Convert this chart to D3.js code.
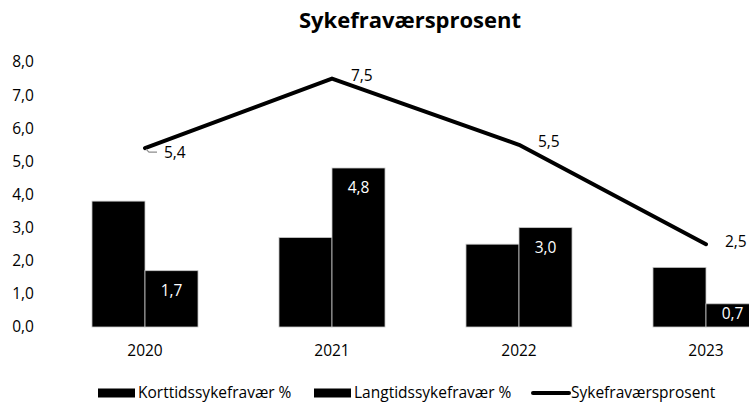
<!DOCTYPE html>
<html>
<head>
<meta charset="utf-8">
<script src="https://cdn.jsdelivr.net/npm/d3@7"></script>
<style>
  body { margin: 0; background: #fff; }
  svg { display: block; font-family: "Open Sans", "Noto Sans", sans-serif; }
</style>
</head>
<body>
<svg id="chart" width="749" height="403"></svg>
<script>
// chart data
const years = ["2020", "2021", "2022", "2023"];
const seriesNames = ["Korttidssykefravær %", "Langtidssykefravær %"];
const korttid = [3.8, 2.7, 2.5, 1.8];
const langtid = [1.7, 4.8, 3.0, 0.7];
const total = [5.4, 7.5, 5.5, 2.5];
const yTicks = [0, 1, 2, 3, 4, 5, 6, 7, 8];
const lineName = "Sykefraværsprosent";

const fmt = v => v.toFixed(1).replace(".", ",");
const fs = 15.5;

const svg = d3.select("#chart");

// scales - plot area runs past the right edge like the original
const x = d3.scaleBand().domain(years).range([51.5, 799.5]).paddingInner(0.433).paddingOuter(0.2165);
const x1 = d3.scaleBand().domain(seriesNames).range([0, x.bandwidth()]);
const y = d3.scaleLinear().domain([0, 8]).range([327, 62]);

// title
svg.append("text")
  .attr("x", 410).attr("y", 28)
  .attr("text-anchor", "middle")
  .attr("font-size", 22).attr("font-weight", "bold")
  .text("Sykefraværsprosent");

// y axis labels (no line)
const yAxis = d3.axisLeft(y).tickValues(yTicks).tickFormat(fmt).tickSize(0).tickPadding(0);
const gy = svg.append("g").attr("transform", "translate(34,0)").call(yAxis);
gy.select(".domain").remove();
gy.selectAll("text").attr("font-size", fs).attr("font-family", "Open Sans").attr("fill", "#000");

// x axis labels
const xAxis = d3.axisBottom(x).tickSize(0).tickPadding(0);
const gx = svg.append("g").attr("transform", "translate(0,345)").call(xAxis);
gx.select(".domain").remove();
gx.selectAll("text").attr("font-size", fs).attr("font-family", "Open Sans").attr("fill", "#000");

// bars
const rows = years.map((yr, i) => ({ year: yr, vals: [korttid[i], langtid[i]] }));
const groups = svg.append("g").selectAll("g")
  .data(rows).join("g")
  .attr("transform", d => `translate(${x(d.year)},0)`);

groups.selectAll("rect")
  .data(d => d.vals.map((v, j) => ({ name: seriesNames[j], v })))
  .join("rect")
  .attr("x", d => x1(d.name))
  .attr("y", d => y(d.v))
  .attr("width", x1.bandwidth())
  .attr("height", d => y(0) - y(d.v))
  .attr("fill", "#000")
  .attr("stroke", "#c8c8c8")
  .attr("stroke-width", 0.8);

// white labels inside the Langtid bars
groups.append("text")
  .attr("x", x1(seriesNames[1]) + x1.bandwidth() / 2)
  .attr("y", d => Math.min(y(d.vals[1]) + 20, y(0) - 13))
  .attr("dy", "0.35em")
  .attr("text-anchor", "middle")
  .attr("font-size", fs)
  .attr("fill", "#fff")
  .text(d => fmt(d.vals[1]));

// total line
const line = d3.line()
  .x((d, i) => x(years[i]) + x.bandwidth() / 2)
  .y(d => y(d));

svg.append("path")
  .datum(total)
  .attr("d", line)
  .attr("fill", "none")
  .attr("stroke", "#000")
  .attr("stroke-width", 4)
  .attr("stroke-linejoin", "round")
  .attr("stroke-linecap", "round");

// leader line for the first label
const cx0 = x(years[0]) + x.bandwidth() / 2, cy0 = y(total[0]);
svg.append("path")
  .attr("d", `M${cx0 + 1},${cy0 + 1} L${cx0 + 4},${cy0 + 4} L${cx0 + 12},${cy0 + 4}`)
  .attr("fill", "none")
  .attr("stroke", "#8c8c8c")
  .attr("stroke-width", 1.2);

svg.append("g").selectAll("text")
  .data(total).join("text")
  .attr("x", (d, i) => x(years[i]) + x.bandwidth() / 2 + 19)
  .attr("y", (d, i) => y(d) + (i === 0 ? 4 : -3))
  .attr("dy", "0.35em")
  .attr("font-size", fs)
  .attr("fill", "#000")
  .text(d => fmt(d));

// legend
const legend = svg.append("g").attr("transform", "translate(0,393)");
const legendItems = [
  { name: seriesNames[0], x: 98, type: "rect" },
  { name: seriesNames[1], x: 314, type: "rect" },
  { name: lineName, x: 531, type: "line" }
];
legendItems.forEach(it => {
  if (it.type === "rect") {
    legend.append("rect").attr("x", it.x).attr("y", -4.5).attr("width", 37).attr("height", 9).attr("fill", "#000");
  } else {
    legend.append("line").attr("x1", it.x + 2).attr("x2", it.x + 38).attr("y1", 0).attr("y2", 0)
      .attr("stroke", "#000").attr("stroke-width", 4).attr("stroke-linecap", "round");
  }
  legend.append("text")
    .attr("x", it.x + 40).attr("y", 0).attr("dy", "0.35em")
    .attr("font-size", fs)
    .text(it.name);
});
</script>
</body>
</html>
